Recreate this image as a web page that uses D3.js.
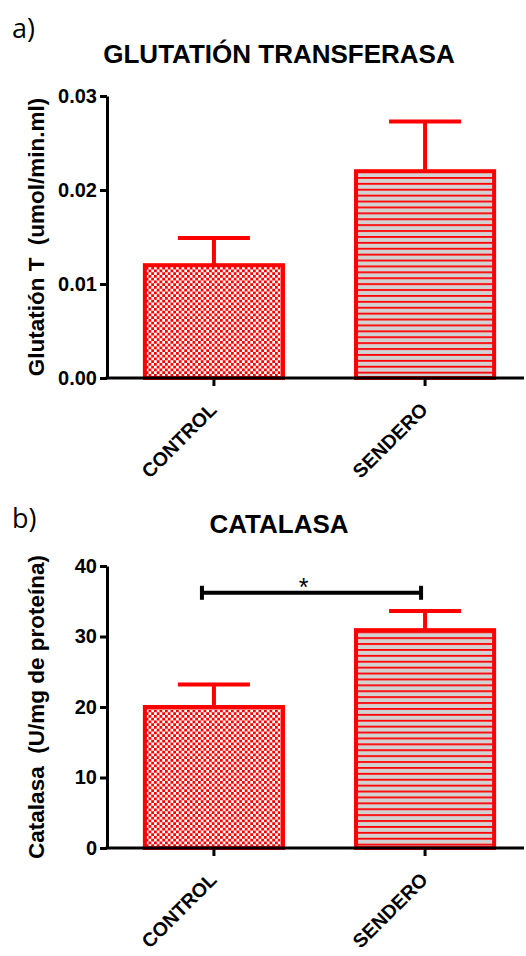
<!DOCTYPE html>
<html>
<head>
<meta charset="utf-8">
<script src="https://cdn.jsdelivr.net/npm/d3@7"></script>
<style>
  html, body { margin: 0; padding: 0; background: #fff; }
  svg { display: block; }
  text { font-family: "Liberation Sans", Arial, sans-serif; }
</style>
</head>
<body>
<svg id="chart" width="526" height="956"></svg>
<script>
// ---------- data ----------
const categories = ["CONTROL", "SENDERO"];

const gstTitle = "GLUTATIÓN TRANSFERASA";
const gstYLabel = "Glutatión T  (umol/min.ml)";
const gstMeans = [0.0120, 0.0220];
const gstSEM = [0.0029, 0.0053];
const gstTicks = [0, 0.01, 0.02, 0.03];

const catTitle = "CATALASA";
const catYLabel = "Catalasa  (U/mg de proteína)";
const catMeans = [20.0, 30.9];
const catSEM = [3.2, 2.7];
const catTicks = [0, 10, 20, 30, 40];

const catSigPair = ["CONTROL", "SENDERO"];
const catSigValue = 36.2;
const catSigLabel = "*";

const panelLetters = ["a)", "b)"];

// ---------- setup ----------
const svg = d3.select("#chart");
const RED = "#ff0000";
const defs = svg.append("defs");

// checkerboard pattern (CONTROL)
const chk = defs.append("pattern").attr("id", "checker")
  .attr("patternUnits", "userSpaceOnUse").attr("width", 5.5).attr("height", 5.5);
chk.append("rect").attr("width", 5.5).attr("height", 5.5).attr("fill", "#fff");
chk.append("rect").attr("width", 2.75).attr("height", 2.75).attr("fill", RED)
  .attr("shape-rendering", "crispEdges");
chk.append("rect").attr("x", 2.75).attr("y", 2.75).attr("width", 2.75).attr("height", 2.75).attr("fill", RED)
  .attr("shape-rendering", "crispEdges");

// horizontal lines on grey (SENDERO)
const hl = defs.append("pattern").attr("id", "hlines")
  .attr("patternUnits", "userSpaceOnUse").attr("width", 10).attr("height", 5.9);
hl.append("rect").attr("width", 10).attr("height", 5.9).attr("fill", "#d2d2d2");
hl.append("rect").attr("y", 0).attr("width", 10).attr("height", 1.8).attr("fill", RED);

const fills = { CONTROL: "url(#checker)", SENDERO: "url(#hlines)" };

function panel(opts) {
  const { top, bottom, yDomain, ticks, fmt, means, sems, title, titleY, yLabel, letter, letterY } = opts;
  const left = 107, axisEnd = 524;
  const g = svg.append("g");

  const x = d3.scaleBand().domain(categories).range([left, 532])
    .paddingInner(0.327).paddingOuter(0.17);
  const y = d3.scaleLinear().domain(yDomain).range([bottom, top]);

  // panel letter
  g.append("text").attr("x", 12).attr("y", letterY)
    .style("font-family", "'Open Sans', 'Liberation Sans', sans-serif")
    .attr("font-size", 27).attr("fill", "#000").text(letter);

  // title
  g.append("text").attr("x", 279).attr("y", titleY).attr("text-anchor", "middle")
    .attr("font-size", 26).attr("font-weight", "bold").text(title);

  // bars
  const data = categories.map((c, i) => ({ c, m: means[i], s: sems[i] }));
  const bw = x.bandwidth();

  // error bars
  const eb = g.selectAll(".eb").data(data).enter().append("g");
  eb.append("line")
    .attr("x1", d => x(d.c) + bw / 2).attr("x2", d => x(d.c) + bw / 2)
    .attr("y1", d => y(d.m)).attr("y2", d => y(d.m + d.s))
    .attr("stroke", RED).attr("stroke-width", 4);
  eb.append("line")
    .attr("x1", d => x(d.c) + bw / 2 - 36).attr("x2", d => x(d.c) + bw / 2 + 36)
    .attr("y1", d => y(d.m + d.s)).attr("y2", d => y(d.m + d.s))
    .attr("stroke", RED).attr("stroke-width", 4);

  g.selectAll(".bar").data(data).enter().append("rect")
    .attr("x", d => x(d.c) + 2).attr("width", bw - 4)
    .attr("y", d => y(d.m)).attr("height", d => y(0) - y(d.m))
    .attr("fill", d => fills[d.c])
    .attr("stroke", RED).attr("stroke-width", 4);

  // y axis
  const ya = g.append("g").attr("transform", `translate(${left},0)`)
    .call(d3.axisLeft(y).tickValues(ticks).tickFormat(fmt).tickSize(7).tickPadding(3).tickSizeOuter(0));
  ya.select(".domain").attr("stroke", "#000").attr("stroke-width", 3);
  ya.selectAll(".tick line").attr("stroke", "#000").attr("stroke-width", 3);
  ya.selectAll(".tick text").attr("font-size", 20).attr("font-weight", "bold")
    .attr("fill", "#000").style("font-family", "'Liberation Sans', Arial, sans-serif");

  // x axis
  const xa = g.append("g").attr("transform", `translate(0,${bottom})`)
    .call(d3.axisBottom(x).tickSize(8).tickSizeOuter(0).tickFormat(""));
  xa.select(".domain").remove();
  xa.selectAll(".tick line").attr("stroke", "#000").attr("stroke-width", 3);
  g.append("line").attr("x1", left - 1.5).attr("x2", axisEnd)
    .attr("y1", bottom).attr("y2", bottom).attr("stroke", "#000").attr("stroke-width", 3);

  g.selectAll(".xl").data(categories).enter().append("text")
    .attr("transform", d => `translate(${x(d) + bw / 2 + 4},${bottom + 33}) rotate(-45)`)
    .attr("text-anchor", "end").attr("font-size", 19.5).attr("font-weight", "bold").text(d => d);

  // y label
  g.append("text")
    .attr("transform", `translate(44,${(top + bottom) / 2}) rotate(-90)`)
    .attr("text-anchor", "middle").attr("font-size", 22.5).attr("font-weight", "bold")
    .attr("xml:space", "preserve").style("white-space", "pre").text(yLabel);

  return { g, x, y, bw };
}

panel({
  top: 96, bottom: 378, yDomain: [0, 0.03], ticks: gstTicks, fmt: d3.format(".2f"),
  means: gstMeans, sems: gstSEM, title: gstTitle, titleY: 63, yLabel: gstYLabel,
  letter: panelLetters[0], letterY: 38
});

const pb = panel({
  top: 566, bottom: 848, yDomain: [0, 40], ticks: catTicks, fmt: d3.format("d"),
  means: catMeans, sems: catSEM, title: catTitle, titleY: 533, yLabel: catYLabel,
  letter: panelLetters[1], letterY: 528
});

// significance bracket
{
  const { g, x, y, bw } = pb;
  const x1 = x(catSigPair[0]) + bw / 2 - 12;
  const x2 = x(catSigPair[1]) + bw / 2 - 4;
  const sy = y(catSigValue);
  g.append("line").attr("x1", x1).attr("x2", x2).attr("y1", sy).attr("y2", sy)
    .attr("stroke", "#000").attr("stroke-width", 4);
  [x1, x2].forEach(xx => g.append("line").attr("x1", xx).attr("x2", xx)
    .attr("y1", sy - 7).attr("y2", sy + 7).attr("stroke", "#000").attr("stroke-width", 4));
  g.append("text").attr("x", (x1 + x2) / 2 - 8).attr("y", sy + 3)
    .attr("text-anchor", "middle").attr("font-size", 25).text(catSigLabel);
}
</script>
</body>
</html>
